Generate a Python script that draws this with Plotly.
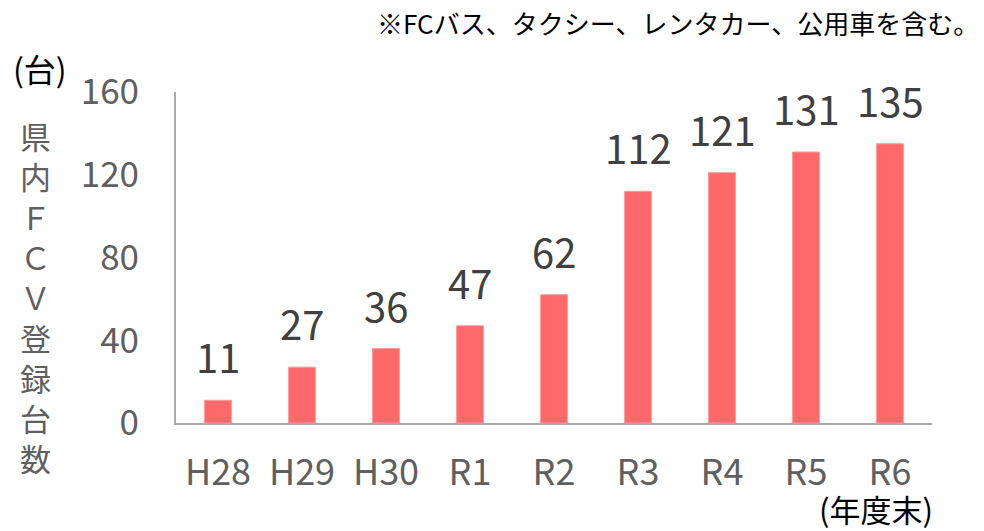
import plotly.graph_objects as go

categories = ["H28", "H29", "H30", "R1", "R2", "R3", "R4", "R5", "R6"]
values = [11, 27, 36, 47, 62, 112, 121, 131, 135]
y_ticks = [0, 40, 80, 120, 160]
y_title_chars = ["県", "内", "Ｆ", "Ｃ", "Ｖ", "登", "録", "台", "数"]

FONT = "Noto Sans CJK JP, Noto Sans, sans-serif"
W, H = 984, 531
L, R, T, B = 176, 52, 92, 108

fig = go.Figure()
fig.add_trace(go.Bar(
    x=categories, y=values,
    marker=dict(color="#FF6969", line=dict(color="#FF9A9A", width=1)),
    width=0.32,
    cliponaxis=False,
))
for c, v in zip(categories, values):
    fig.add_annotation(x=c, y=v, text=str(v), showarrow=False, yanchor="bottom",
                       yshift=13, font=dict(size=40, color="#404040", family=FONT))

fig.update_layout(
    width=W, height=H,
    margin=dict(l=L, r=R, t=T, b=B, pad=0),
    paper_bgcolor="white", plot_bgcolor="white",
    showlegend=False,
    font=dict(family=FONT),
    xaxis=dict(showline=True, linecolor="#AAAAAA", linewidth=2, ticks="", automargin=False,
               tickfont=dict(size=36, color="#5f5f5f", family=FONT),
               ticklabelstandoff=17),
    yaxis=dict(range=[0, 160], tickvals=y_ticks, showgrid=False, zeroline=False, automargin=False,
               showline=True, linecolor="#AAAAAA", linewidth=2, ticks="",
               tickfont=dict(size=35, color="#5f5f5f", family=FONT),
               ticklabelstandoff=28),
)

pw = W - L - R
ph = H - T - B
def px(xpix):
    return (xpix - L) / pw
def py(ypix):
    return (H - B - ypix) / ph

fig.add_annotation(text="<br>".join(y_title_chars), x=px(35), xref="paper", y=py(296), yref="paper",
                   showarrow=False, font=dict(size=31, color="#5f5f5f", family=FONT),
                   xanchor="center", yanchor="middle")

fig.add_annotation(text="(台)", x=px(40), xref="paper", y=py(68), yref="paper",
                   showarrow=False, font=dict(size=32, color="#000000", family=FONT),
                   xanchor="center", yanchor="middle")
fig.add_annotation(text="(年度末)", x=px(876), xref="paper", y=py(508), yref="paper",
                   showarrow=False, font=dict(size=31, color="#000000", family=FONT),
                   xanchor="center", yanchor="middle")
fig.add_annotation(text="※FCバス、タクシー、レンタカー、公用車を含む。", x=px(981), xref="paper",
                   y=py(22), yref="paper",
                   showarrow=False, font=dict(size=26, color="#000000", family=FONT),
                   xanchor="right", yanchor="middle")

fig.write_html("out.html", config={"displayModeBar": False},
               post_script="document.body.style.margin='0';document.body.style.overflow='hidden';")
